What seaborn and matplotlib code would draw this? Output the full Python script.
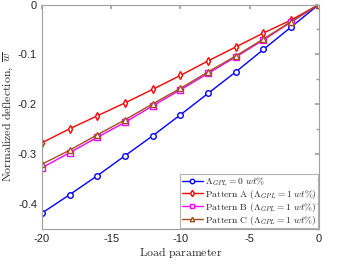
"""Normalized deflection vs load parameter."""

import matplotlib
matplotlib.use("Agg")
import matplotlib.pyplot as plt
from matplotlib.ticker import MultipleLocator
import numpy as np
import pandas as pd
import seaborn as sns

load = [-20, -18, -16, -14, -12, -10, -8, -6, -4, -2, 0]
w_pure = [-0.418, -0.381, -0.343, -0.303, -0.263, -0.221, -0.178, -0.135, -0.090, -0.045, 0.0]
w_a = [-0.277, -0.249, -0.223, -0.197, -0.170, -0.142, -0.113, -0.085, -0.057, -0.031, 0.0]
w_b = [-0.327, -0.297, -0.266, -0.236, -0.203, -0.171, -0.138, -0.105, -0.071, -0.035, 0.0]
w_c = [-0.320, -0.292, -0.261, -0.231, -0.199, -0.168, -0.135, -0.103, -0.069, -0.034, 0.0]

labels = [
    r"$\Lambda_{GPL}=0\ wt\%$",
    r"$\mathrm{Pattern\ A}\ (\Lambda_{GPL}=1\ wt\%)$",
    r"$\mathrm{Pattern\ B}\ (\Lambda_{GPL}=1\ wt\%)$",
    r"$\mathrm{Pattern\ C}\ (\Lambda_{GPL}=1\ wt\%)$",
]
colors = ["#0000ff", "#ff0000", "#ff00ff", "#a0501e"]
markers = ["o", "d", "s", "^"]

sns.set_theme(style="white")
plt.rcParams["font.family"] = ["Liberation Sans", "DejaVu Sans"]
plt.rcParams["mathtext.fontset"] = "cm"
plt.rcParams["axes.unicode_minus"] = False

fig = plt.figure(figsize=(3.41, 2.67), dpi=100)
ax = fig.add_axes([0.123, 0.142, 0.812, 0.841])

for vals, lab, col, mk in zip([w_pure, w_a, w_b, w_c], labels, colors, markers):
    df = pd.DataFrame({"x": load, "y": vals})
    sns.lineplot(data=df, x="x", y="y", ax=ax, color=col, marker=mk,
                 markersize=4, markerfacecolor="white", markeredgecolor=col,
                 markeredgewidth=1.0, linewidth=1.0, label=lab)

ax.set_xlim(-20, 0)
ax.set_ylim(-0.45, 0)
ax.set_xticks([-20, -15, -10, -5, 0])
ax.set_yticks([-0.4, -0.3, -0.2, -0.1, 0])
ax.set_yticklabels(["-0.4", "-0.3", "-0.2", "-0.1", "0"])
ax.yaxis.set_minor_locator(MultipleLocator(0.05))
ax.tick_params(which="both", direction="in", top=True, right=True,
               color="#a0a0a0", labelsize=8, labelcolor="#262626")
ax.tick_params(which="major", length=3)
ax.tick_params(which="minor", length=2)
for s in ax.spines.values():
    s.set_color("#a0a0a0")
    s.set_linewidth(0.8)

ax.set_xlabel(r"$\mathrm{Load\ parameter}$", fontsize=8.5, labelpad=1)
ax.set_ylabel(r"$\mathrm{Normalized\ deflection,}\ \overline{w}$", fontsize=8.5, labelpad=2)

leg = ax.legend(loc="lower right", fontsize=6.9, frameon=True, fancybox=False,
                handlelength=2.2, handletextpad=0.2, borderpad=0.15,
                labelspacing=0.0, borderaxespad=0.1, markerscale=0.8)
leg.get_frame().set_edgecolor("#a0a0a0")
leg.get_frame().set_linewidth(0.8)

fig.savefig("out.png", dpi=100)
